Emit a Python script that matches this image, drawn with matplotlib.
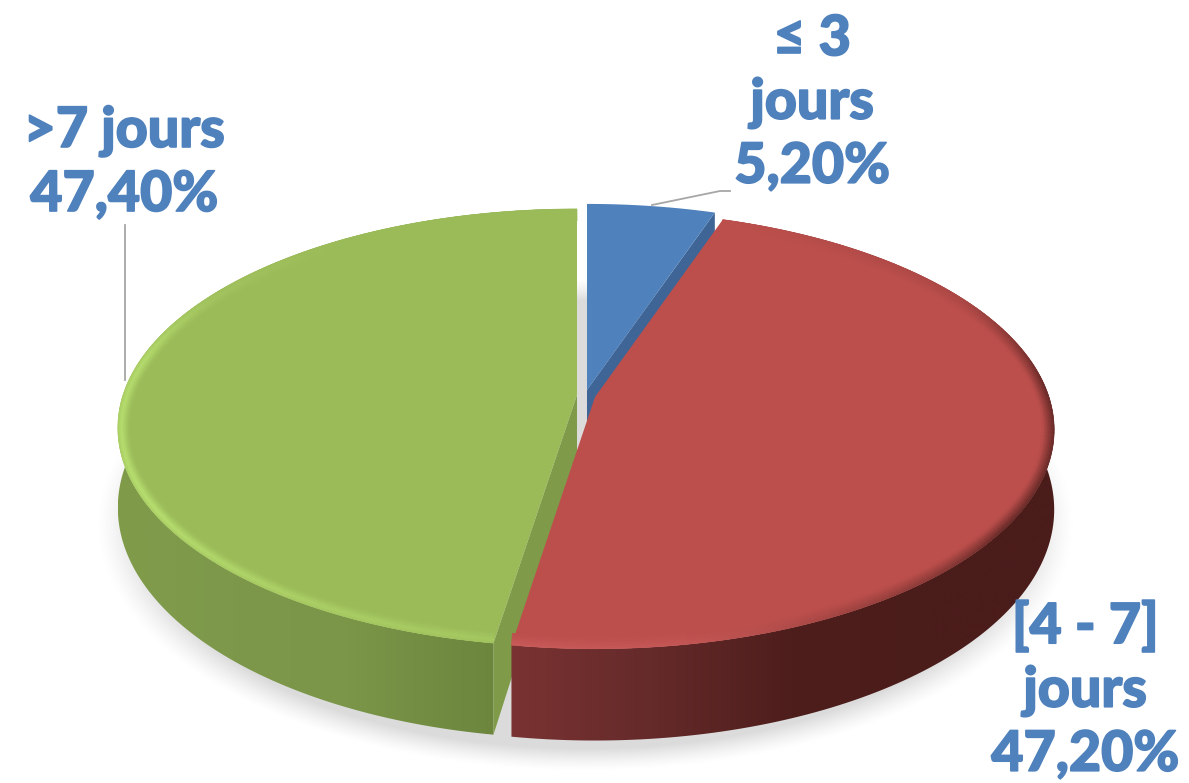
import numpy as np
import matplotlib

matplotlib.use("Agg", force=True)
import matplotlib.pyplot as plt
import matplotlib.patheffects as pe
from matplotlib.collections import PolyCollection
from matplotlib.colors import LinearSegmentedColormap, to_rgb
from matplotlib.patches import Polygon

# data
categories = ["\u2264 3\njours", "[4 - 7]\njours", ">7 jours"]
values = [5.2, 47.2, 47.4]
value_labels = ["5,20%", "47,20%", "47,40%"]

# look of each slice
face_colors = ["#4F81BD", "#BC4F4C", "#9BBB59"]
cut_colors = ["#3E6596", "#6F2E2D", "#7F9A48"]
wall_stops = [
    ["#3E6596", "#3E6596"],
    ["#7A3232", "#652A2A", "#4E1E1C", "#4A1C1A", "#4A1C1A"],
    ["#809C4A", "#7D984A", "#7B9648", "#6F8A40", "#667C38"],
]
apex = [(587, 390), (595, 397), (577, 395)]
label_pos = [(812, 103), (1085, 690), (124, 163)]

RX, RY, TILT, DEPTH = 454, 214, 0.15, 78
BEVEL = 12
TEXT_BLUE = "#4F81BD"
W, H = 1189, 783


def project(theta, center, depth=0.0):
    # theta in degrees clockwise from the top of the pie
    t = np.radians(theta)
    u, v = np.sin(t), np.cos(t)
    w = 1 + TILT * v
    return center[0] + RX * u / w, center[1] - RY * v / w + depth / w


def draw_wall(ax, theta, center, stops):
    x0, y0 = project(theta, center)
    x1, y1 = project(theta, center, DEPTH)
    pts = np.column_stack([np.r_[x0, x1[::-1]], np.r_[y0, y1[::-1]]])
    clip = Polygon(pts, closed=True, transform=ax.transData, fc="none", ec="none")
    ax.add_patch(clip)
    cmap = LinearSegmentedColormap.from_list("wall", stops)
    left, right = pts[:, 0].min(), pts[:, 0].max()
    if left > 400:
        right = left + 560
    elif right < 600:
        left = 118
    img = ax.imshow(
        np.linspace(0, 1, 256)[None, :],
        cmap=cmap,
        extent=(left, max(right, pts[:, 0].max()), pts[:, 1].max(), pts[:, 1].min()),
        aspect="auto",
        zorder=next(order),
    )
    img.set_clip_path(clip)


def draw_bevel(ax, theta, center, face, rim_theta, rim_strength, rim_color, profile, zorder):
    x, y = project(theta, center)
    dx, dy = np.gradient(x), np.gradient(y)
    norm = np.hypot(dx, dy)
    nx, ny = -dy / norm, dx / norm
    flip = (center[0] - x) * nx + (center[1] - y) * ny < 0
    nx, ny = np.where(flip, -nx, nx), np.where(flip, -ny, ny)
    strength = np.interp(theta, rim_theta, rim_strength)
    rim_rgb = np.column_stack(
        [np.interp(theta, rim_theta, np.array(rim_color)[:, i]) for i in range(3)]
    )
    face_rgb = np.array(to_rgb(face))
    n_ring = 8
    quads, colors = [], []
    for i in range(len(theta) - 1):
        for j in range(n_ring):
            t0, t1 = j / n_ring, (j + 1) / n_ring
            d0, d1 = t0 * BEVEL, t1 * BEVEL
            quads.append(
                [
                    (x[i] + nx[i] * d0, y[i] + ny[i] * d0),
                    (x[i + 1] + nx[i + 1] * d0, y[i + 1] + ny[i + 1] * d0),
                    (x[i + 1] + nx[i + 1] * d1, y[i + 1] + ny[i + 1] * d1),
                    (x[i] + nx[i] * d1, y[i] + ny[i] * d1),
                ]
            )
            amount = strength[i] * np.interp((t0 + t1) / 2, profile[0], profile[1])
            colors.append(face_rgb * (1 - amount) + rim_rgb[i] * amount)
    ax.add_collection(
        PolyCollection(quads, facecolors=colors, edgecolors=colors, linewidths=0.4, zorder=zorder)
    )


fig = plt.figure(figsize=(W / 100, H / 100), dpi=100)
ax = fig.add_axes([0, 0, 1, 1])
ax.set_xlim(0, W)
ax.set_ylim(H, 0)
ax.axis("off")
order = iter(range(2, 200))

# soft grey shadow under the pie
yy, xx = np.mgrid[0:H, 0:W]
dist = np.hypot((xx - 585) / 488, (yy - 524) / 246)
shadow = np.ones((H, W, 4))
shadow[..., :3] = 0.86
shadow[..., 3] = np.clip((1.0 - dist) / 0.09, 0, 1) ** 1.3
ax.imshow(shadow, extent=(0, W, H, 0), aspect="auto", zorder=1)

# slice angles come from the values
edges = np.r_[0, np.cumsum(values)] / np.sum(values) * 360
arcs = [np.linspace(edges[i], edges[i + 1], int(edges[i + 1] - edges[i]) + 2) for i in range(3)]

# green: outer wall + cut wall, then top
draw_wall(ax, arcs[2], apex[2], wall_stops[2])
gx, gy = project(edges[2], apex[2])
gbx, gby = project(edges[2], apex[2], DEPTH)
ax.add_patch(
    Polygon(
        [apex[2], (gx, gy), (gbx, gby), (apex[2][0], apex[2][1] + DEPTH)],
        fc=cut_colors[2], ec="none", zorder=next(order),
    )
)
# blue: cut wall then top
bx, by = project(edges[1], apex[0])
ax.add_patch(
    Polygon(
        [apex[0], (bx, by), (bx, by + DEPTH), (apex[0][0], apex[0][1] + DEPTH)],
        fc=cut_colors[0], ec="none", zorder=next(order),
    )
)
for i in (2, 0):
    x, y = project(arcs[i], apex[i])
    ax.add_patch(
        Polygon(np.column_stack([np.r_[apex[i][0], x], np.r_[apex[i][1], y]]),
                fc=face_colors[i], ec="none", zorder=next(order))
    )
draw_bevel(
    ax, arcs[2], apex[2], face_colors[2],
    [188, 215, 240, 280, 300, 325], [0.35, 0.65, 1.0, 0.9, 0.25, 0.0],
    [to_rgb("#B8E070")] * 6,
    ([0, 0.35, 1], [0.55, 1, 0]), next(order),
)
# red: wall then top
draw_wall(ax, arcs[1], apex[1], wall_stops[1])
x, y = project(arcs[1], apex[1])
ax.add_patch(
    Polygon(np.column_stack([np.r_[apex[1][0], x], np.r_[apex[1][1], y]]),
            fc=face_colors[1], ec="none", zorder=next(order))
)
draw_bevel(
    ax, arcs[1], apex[1], face_colors[1],
    [18, 60, 85, 125, 150, 170, 189], [0.0, 0.2, 0.9, 0.9, 0.5, 0.4, 0.6],
    [to_rgb(c) for c in ["#5A2422", "#5A2422", "#5A2422", "#5A2422", "#7A3432", "#D26464", "#D26464"]],
    ([0, 0.5, 1], [1, 0.5, 0]), next(order),
)

# leader lines
ax.plot([652, 720, 730], [205, 191, 191], color="#A6A6A6", lw=1.3, zorder=next(order))
ax.plot([125, 125], [225, 380], color="#A6A6A6", lw=1.3, zorder=next(order))

for cat, val, (tx, ty) in zip(categories, value_labels, label_pos):
    ax.text(
        tx, ty, f"{cat}\n{val}", ha="center", va="center", color=TEXT_BLUE,
        fontsize=40, fontweight="black", family=["Lato", "DejaVu Sans"],
        linespacing=1.33, zorder=next(order),
        path_effects=[pe.withStroke(linewidth=1.2, foreground=TEXT_BLUE)],
    )

ax.set_xlim(0, W)
ax.set_ylim(H, 0)
fig.savefig("out.png", dpi=100)
